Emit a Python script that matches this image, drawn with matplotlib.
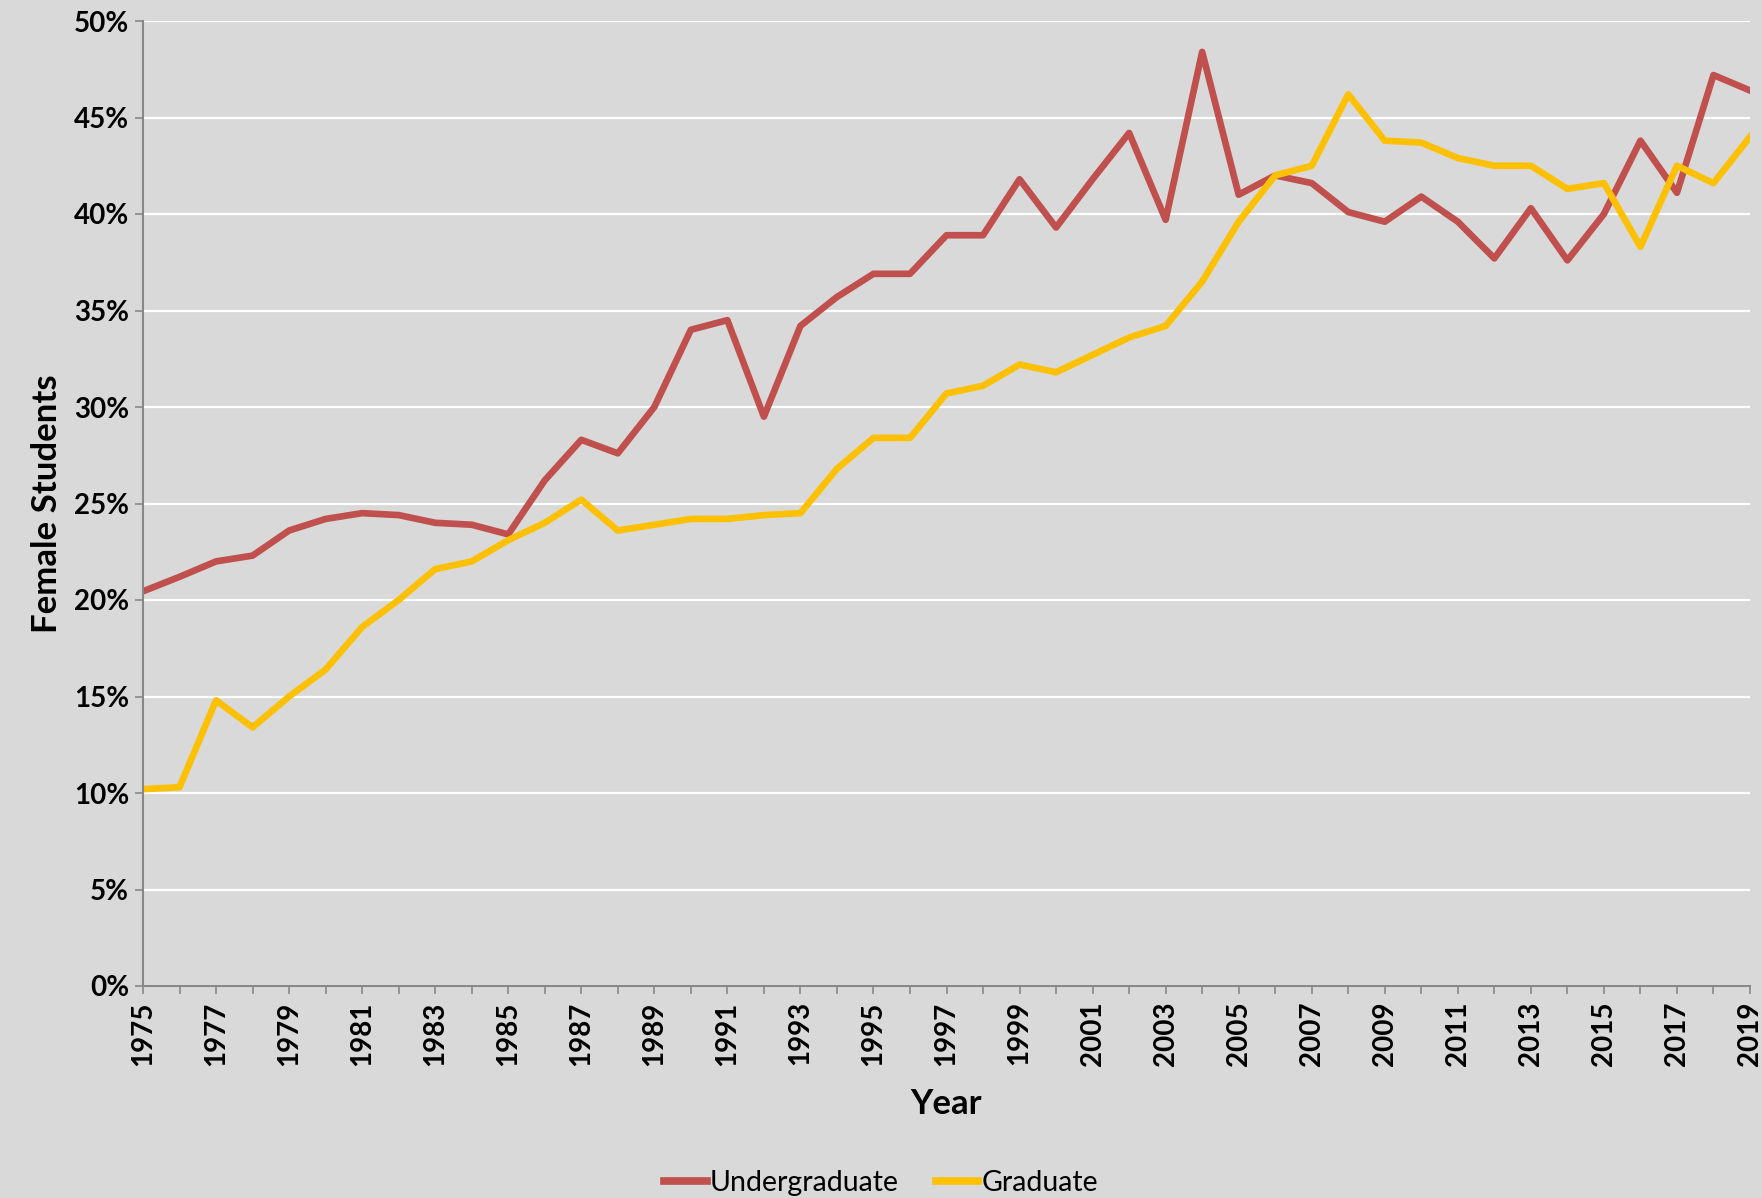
import numpy as np
import matplotlib.pyplot as plt

plt.rcParams['font.family'] = ['Lato', 'DejaVu Sans']

years = list(range(1975, 2020))

undergrad = [20.45, 21.2, 22.0, 22.3, 23.6, 24.2, 24.5, 24.4, 24.0, 23.9,
             23.4, 26.2, 28.3, 27.6, 30.0, 34.0, 34.5, 29.5, 34.2, 35.7,
             36.9, 36.9, 38.9, 38.9, 41.8, 39.3, 41.8, 44.2, 39.7, 48.4,
             41.0, 42.0, 41.6, 40.1, 39.6, 40.9, 39.6, 37.7, 40.3, 37.6,
             40.0, 43.8, 41.1, 47.2, 46.4]

graduate = [10.2, 10.3, 14.8, 13.4, 15.0, 16.4, 18.6, 20.0, 21.6, 22.0,
            23.1, 24.0, 25.2, 23.6, 23.9, 24.2, 24.2, 24.4, 24.5, 26.8,
            28.4, 28.4, 30.7, 31.1, 32.2, 31.8, 32.7, 33.6, 34.2, 36.5,
            39.6, 42.0, 42.5, 46.2, 43.8, 43.7, 42.9, 42.5, 42.5, 41.3,
            41.6, 38.3, 42.5, 41.6, 44.0]

y_ticks = [0, 5, 10, 15, 20, 25, 30, 35, 40, 45, 50]

bg = '#D9D9D9'
fig = plt.figure(figsize=(17.62, 11.98), dpi=100, facecolor=bg)
ax = fig.add_axes([143 / 1762, 1 - 986 / 1198, (1750 - 143) / 1762, (986 - 21) / 1198])
ax.set_facecolor(bg)

ax.plot(years, undergrad, color='#C0504D', lw=4.8, label='Undergraduate', solid_joinstyle='round')
ax.plot(years, graduate, color='#FFC000', lw=4.8, label='Graduate', solid_joinstyle='round')

ax.set_xlim(1975, 2019)
ax.set_ylim(0, 50)
ax.set_yticks(y_ticks)
ax.set_yticklabels([f'{v}%' for v in y_ticks], fontsize=20, fontweight='bold')
ax.set_xticks(years)
ax.set_xticklabels([str(y) if (y - 1975) % 2 == 0 else '' for y in years],
                   rotation=90, fontsize=20, fontweight='bold')

ax.grid(axis='y', color='white', lw=1.6)
ax.set_axisbelow(True)
for s in ['top', 'right']:
    ax.spines[s].set_visible(False)
for s in ['left', 'bottom']:
    ax.spines[s].set_color('#888888')
    ax.spines[s].set_linewidth(1.5)
ax.tick_params(axis='both', colors='#888888', length=6, width=1.2, labelcolor='black')
ax.tick_params(axis='x', pad=5)
ax.tick_params(axis='y', pad=4)

ax.set_xlabel('Year', fontsize=25, fontweight='bold', labelpad=16)
ax.set_ylabel('Female Students', fontsize=25, fontweight='bold', labelpad=8)

fig.legend(loc='lower center', bbox_to_anchor=(0.5, -0.02), ncol=2, frameon=False,
           fontsize=20.5, handlelength=1.5, handletextpad=0.1, columnspacing=1.3)
for line in fig.legends[0].get_lines():
    line.set_linewidth(5.5)

fig.savefig('out.png', dpi=100, facecolor=bg)
